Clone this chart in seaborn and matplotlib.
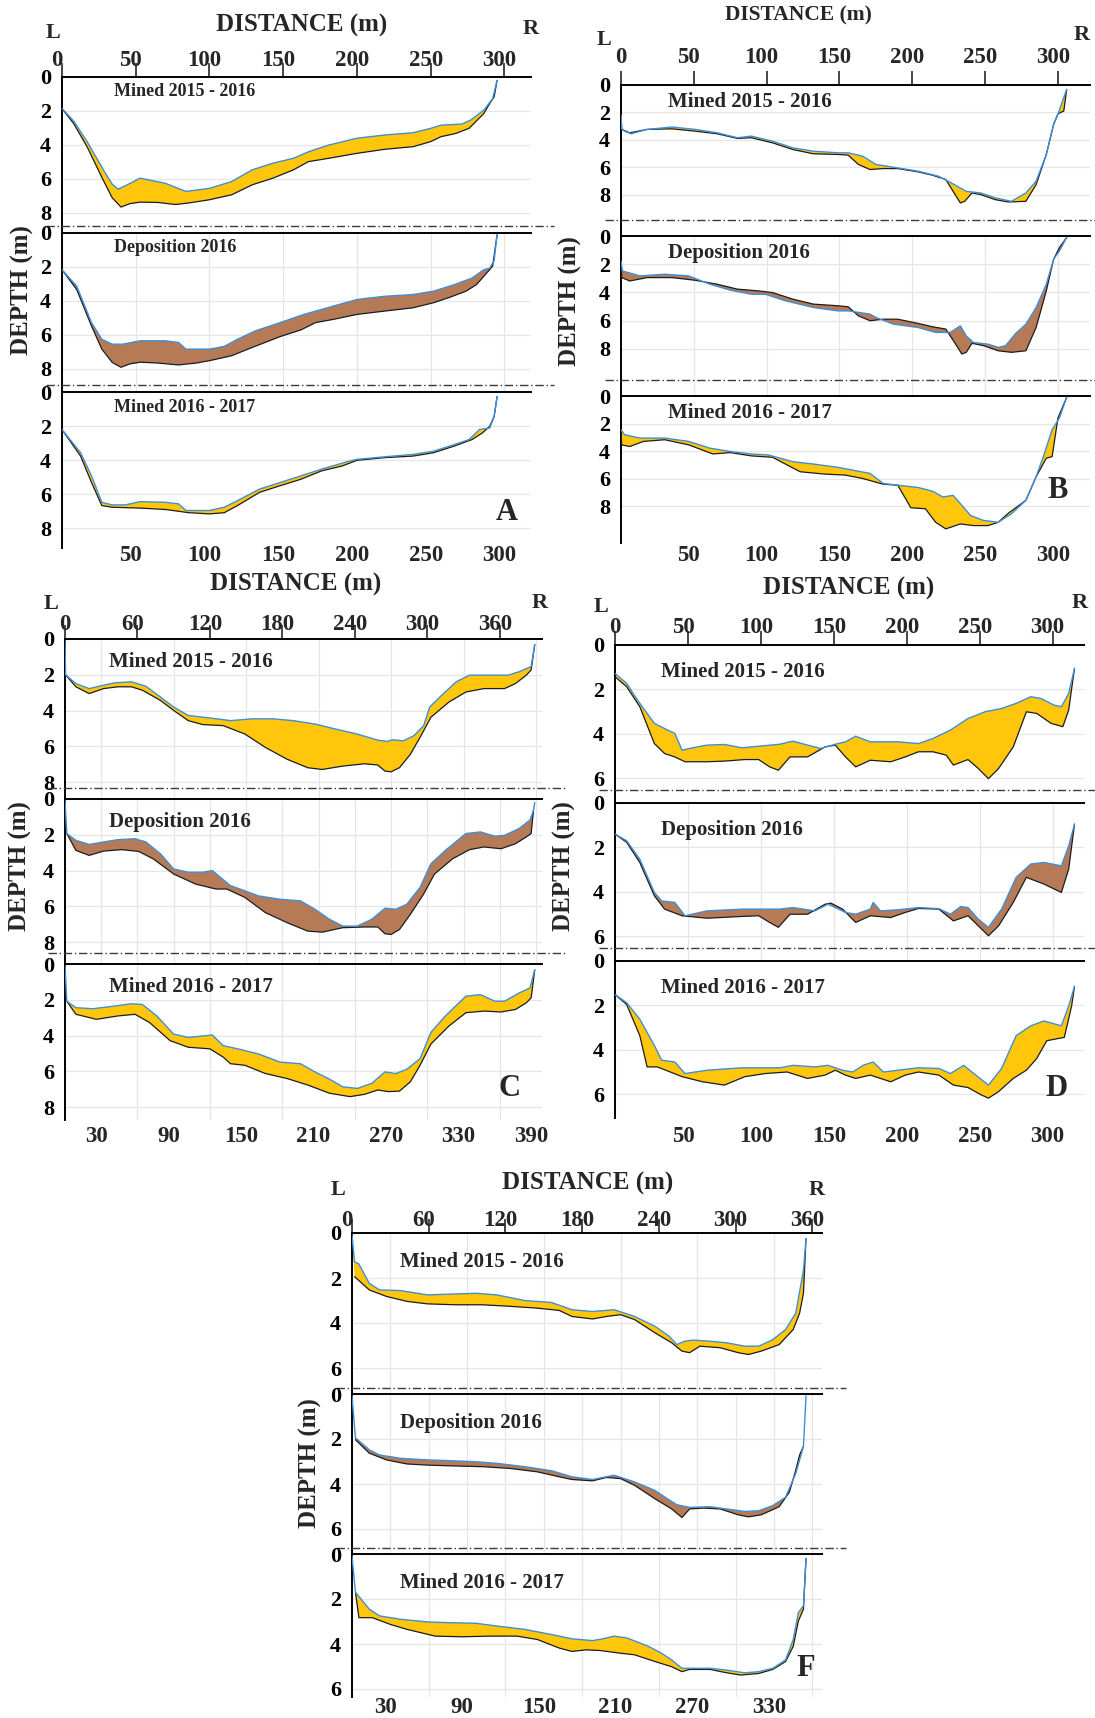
import matplotlib
matplotlib.use("Agg")
import matplotlib.pyplot as plt
import matplotlib.transforms as mtransforms
import seaborn as sns
import pandas as pd

# ---- profile data: (distance m, depth m); TOP = blue line, BOT = black line ----
A1_TOP = [(0, 1.85), (8, 2.6), (17, 3.8), (29, 5.6), (34, 6.3), (38, 6.6), (44, 6.35), (53, 5.95), (70, 6.25),
          (84, 6.73), (100, 6.55), (115, 6.15), (129, 5.46), (143, 5.07), (157, 4.78), (167, 4.4), (181, 4.0),
          (200, 3.6), (219, 3.41), (238, 3.28), (250, 3.02), (257, 2.83), (271, 2.77), (277, 2.54), (286, 1.95),
          (292, 1.27), (295, 0.2)]
A1_BOT = [(0, 1.85), (8, 2.75), (17, 4.1), (27, 5.9), (34, 7.1), (40, 7.65), (46, 7.45), (53, 7.36), (65, 7.38),
          (77, 7.5), (86, 7.41), (100, 7.22), (115, 6.93), (129, 6.34), (143, 5.95), (157, 5.46), (167, 4.98),
          (181, 4.78), (200, 4.49), (219, 4.25), (238, 4.1), (250, 3.8), (257, 3.51), (267, 3.32), (276, 3.02),
          (286, 2.15), (290, 1.56), (293, 1.17), (295, 0.2)]
A2_TOP = [(0, 2.16), (10, 3.13), (20, 5.27), (27, 6.25), (34, 6.54), (41, 6.54), (53, 6.34), (70, 6.34), (79, 6.44),
          (84, 6.83), (100, 6.83), (110, 6.67), (119, 6.25), (131, 5.76), (148, 5.27), (164, 4.79), (184, 4.3),
          (200, 3.91), (219, 3.72), (238, 3.62), (252, 3.42), (266, 3.04), (278, 2.65), (286, 2.16), (290, 2.07),
          (293, 1.63), (295, 0.1)]
A2_BOT = [(0, 2.16), (10, 3.33), (20, 5.47), (27, 6.83), (34, 7.61), (40, 7.9), (46, 7.7), (53, 7.6), (65, 7.65),
          (79, 7.76), (91, 7.65), (100, 7.51), (115, 7.22), (129, 6.73), (148, 6.09), (162, 5.7), (172, 5.27),
          (184, 5.08), (200, 4.79), (219, 4.59), (238, 4.4), (252, 4.1), (262, 3.81), (274, 3.42), (281, 3.04),
          (288, 2.35), (292, 1.95), (295, 0.1)]
A3_TOP = [(0, 2.21), (12.6, 3.57), (20, 4.93), (27, 6.49), (34, 6.64), (43, 6.64), (53, 6.45), (70, 6.49), (79, 6.58),
          (84, 6.97), (100, 6.97), (110, 6.78), (119, 6.39), (134, 5.71), (148, 5.32), (162, 4.93), (176, 4.54),
          (195, 4.06), (200, 3.96), (219, 3.81), (238, 3.67), (252, 3.48), (266, 3.09), (276, 2.8), (283, 2.21),
          (290, 2.12), (293, 1.44), (295, 0.27)]
A3_BOT = [(0, 2.21), (12.6, 3.77), (20, 5.32), (27, 6.68), (34, 6.78), (53, 6.83), (70, 6.91), (86, 7.1), (100, 7.17),
          (110, 7.1), (119, 6.68), (134, 5.9), (148, 5.51), (162, 5.13), (176, 4.64), (190, 4.35), (200, 4.02),
          (219, 3.86), (238, 3.77), (252, 3.57), (266, 3.18), (278, 2.8), (285, 2.41), (290, 2.02), (293, 1.44),
          (295, 0.27)]

B1_TOP = [(0, 2.2), (0.5, 3.2), (2.4, 3.37), (7, 3.56), (18, 3.24), (35, 3.07), (51, 3.24), (66, 3.49), (80, 3.85),
          (89.5, 3.73), (104, 4.1), (118, 4.59), (132, 4.83), (149, 4.95), (156, 4.95), (166, 5.2), (175, 5.8),
          (190, 6.05), (204, 6.29), (218, 6.66), (228, 7.22), (237, 7.76), (247, 7.88), (257, 8.24), (268, 8.49),
          (278, 7.88), (285, 7.02), (292, 5.07), (297, 2.88), (300, 2.15), (303, 1.2), (306, 0.32)]
B1_BOT = [(0, 2.2), (0.5, 3.24), (6, 3.49), (18, 3.24), (35, 3.2), (51, 3.37), (66, 3.56), (80, 3.9), (89.5, 3.85),
          (104, 4.22), (118, 4.71), (132, 5.02), (149, 5.07), (156, 5.12), (163, 5.8), (171, 6.17), (180, 6.1),
          (190, 6.1), (204, 6.34), (214, 6.59), (223, 6.9), (228, 7.76), (233, 8.61), (236, 8.49), (241, 7.88),
          (247, 8.0), (257, 8.37), (266, 8.54), (278, 8.49), (285, 7.27), (292, 5.07), (297, 2.88), (300, 2.1),
          (304, 1.9), (306, 0.32)]
B2_TOP = [(0, 1.77), (1, 2.48), (13, 2.83), (30, 2.71), (46.5, 2.83), (61, 3.42), (75, 3.84), (89.5, 4.13),
          (99, 4.13), (113, 4.6), (132, 5.07), (149, 5.31), (156, 5.31), (171, 5.54), (175, 5.78), (187, 6.25),
          (204, 6.49), (216, 6.84), (226, 6.84), (233, 6.37), (237, 7.08), (242, 7.55), (252, 7.67), (259, 7.9),
          (264, 7.78), (271, 6.91), (278, 6.25), (285, 5.07), (292, 3.42), (297, 1.65), (301, 1.06), (306, 0.1)]
B2_BOT = [(0, 1.77), (0.5, 2.95), (6, 3.19), (18, 2.95), (35, 2.95), (51, 3.14), (66, 3.42), (80, 3.77), (94, 3.89),
          (104, 4.01), (118, 4.48), (132, 4.83), (149, 4.95), (156, 5.02), (163, 5.66), (171, 6.01), (180, 5.9),
          (190, 5.9), (204, 6.2), (214, 6.44), (223, 6.6), (229, 7.55), (234, 8.37), (237, 8.25), (241, 7.61),
          (249, 7.78), (259, 8.14), (268, 8.25), (278, 8.14), (285, 6.49), (292, 3.89), (297, 1.65), (301, 0.83),
          (306, 0.1)]
B3_TOP = [(0, 2.44), (2.4, 2.8), (13, 3.05), (30, 3.05), (46.5, 3.29), (61, 3.78), (75, 4.02), (89.5, 4.2),
          (101, 4.27), (118, 4.76), (132, 4.93), (149, 5.17), (159, 5.37), (171, 5.61), (180, 6.34), (190, 6.46),
          (204, 6.63), (214, 6.9), (221, 7.32), (228, 7.2), (233, 7.8), (240, 8.66), (249, 9.02), (259, 9.15),
          (268, 8.54), (278, 7.56), (285, 5.85), (290, 4.39), (296, 2.44), (301, 1.59), (306, 0.1)]
B3_BOT = [(0, 2.44), (0.5, 3.54), (6, 3.66), (15.5, 3.29), (30, 3.17), (46.5, 3.54), (63, 4.2), (75, 4.1),
          (89.5, 4.34), (104, 4.44), (123, 5.49), (140, 5.66), (154, 5.73), (166, 5.98), (180, 6.39), (190, 6.46),
          (199, 8.1), (209, 8.17), (216, 9.15), (223, 9.63), (233, 9.27), (242, 9.39), (252, 9.39), (259, 9.15),
          (266, 8.49), (278, 7.56), (285, 5.85), (292, 4.51), (296, 4.39), (300, 1.59), (306, 0.1)]

C1_TOP = [(0, 0.1), (0.5, 2.0), (9, 2.49), (20, 2.77), (32, 2.58), (41, 2.45), (55, 2.39), (67, 2.64), (79, 3.24),
          (90, 3.8), (102, 4.27), (120, 4.41), (137, 4.56), (155, 4.46), (172, 4.46), (189, 4.56), (207, 4.75),
          (224, 5.03), (242, 5.31), (259, 5.65), (267, 5.72), (271, 5.63), (280, 5.69), (289, 5.4), (297, 4.84),
          (302, 3.8), (312, 3.14), (324, 2.39), (335, 2.02), (353, 2.02), (367, 2.02), (376, 1.83), (386, 1.54),
          (389, 0.32)]
C1_BOT = [(0.5, 2.0), (9, 2.67), (20, 3.05), (32, 2.77), (44, 2.67), (55, 2.67), (64, 2.86), (79, 3.43), (90, 3.99),
          (102, 4.56), (114, 4.78), (131, 4.84), (149, 5.31), (166, 6.06), (184, 6.72), (201, 7.19), (213, 7.29),
          (230, 7.1), (248, 6.97), (259, 7.04), (265, 7.38), (270, 7.42), (277, 7.19), (286, 6.44), (294, 5.5),
          (303, 4.37), (318, 3.52), (332, 2.96), (347, 2.77), (364, 2.77), (373, 2.49), (382, 2.02), (386, 1.73),
          (389, 0.32)]
C2_TOP = [(0, 0.1), (1.5, 1.93), (9, 2.31), (20, 2.54), (32, 2.4), (44, 2.27), (58, 2.22), (67, 2.4), (79, 3.06),
          (90, 3.91), (102, 4.09), (114, 4.09), (122, 4.0), (128, 4.34), (137, 4.84), (149, 5.13), (160, 5.41),
          (178, 5.6), (195, 5.69), (207, 6.16), (219, 6.72), (230, 7.1), (242, 7.1), (254, 6.72), (265, 6.1),
          (274, 6.16), (283, 5.88), (294, 4.94), (303, 3.62), (315, 2.87), (332, 1.93), (344, 1.84), (356, 2.08),
          (364, 2.03), (376, 1.65), (385, 1.18), (388, 0.62), (389, 0.2)]
C2_BOT = [(1.5, 1.93), (9, 2.87), (20, 3.15), (32, 2.91), (47, 2.83), (61, 2.93), (73, 3.34), (90, 4.19),
          (108, 4.75), (125, 5.03), (134, 5.03), (149, 5.5), (166, 6.35), (184, 6.91), (201, 7.38), (213, 7.44),
          (230, 7.19), (248, 7.15), (259, 7.15), (265, 7.53), (270, 7.57), (277, 7.29), (286, 6.44), (297, 5.31),
          (306, 4.19), (321, 3.34), (335, 2.83), (347, 2.68), (361, 2.78), (373, 2.5), (382, 2.12), (386, 1.93),
          (388, 0.62)]
C3_TOP = [(0, 0.1), (1.5, 2.08), (9, 2.44), (23, 2.5), (41, 2.35), (55, 2.22), (64, 2.26), (76, 2.9), (90, 3.92),
          (102, 4.1), (122, 3.97), (131, 4.56), (143, 4.74), (160, 5.02), (178, 5.48), (195, 5.57), (207, 6.03),
          (219, 6.43), (230, 6.86), (242, 6.95), (254, 6.67), (265, 6.03), (274, 6.12), (283, 5.88), (294, 5.29),
          (303, 3.82), (315, 2.9), (332, 1.8), (344, 1.71), (356, 2.08), (364, 2.08), (376, 1.62), (385, 1.34),
          (389, 0.33)]
C3_BOT = [(1.5, 2.08), (9, 2.81), (26, 3.09), (44, 2.9), (58, 2.81), (70, 3.27), (87, 4.28), (102, 4.65),
          (120, 4.74), (131, 5.2), (137, 5.57), (149, 5.66), (166, 6.12), (184, 6.4), (201, 6.76), (219, 7.22),
          (236, 7.41), (248, 7.28), (259, 7.04), (268, 7.13), (277, 7.1), (286, 6.58), (294, 5.66), (303, 4.47),
          (318, 3.46), (332, 2.72), (347, 2.63), (361, 2.68), (373, 2.54), (382, 2.17), (386, 1.89), (389, 0.33)]

D1_TOP = [(0, 1.28), (8, 1.73), (17, 2.63), (27, 3.53), (36, 3.83), (41, 3.98), (46, 4.74), (51, 4.66), (63, 4.51),
          (75, 4.48), (87, 4.63), (98.5, 4.56), (113, 4.47), (122, 4.33), (132, 4.51), (141, 4.66), (151, 4.47),
          (158, 4.36), (165, 4.11), (175, 4.36), (184, 4.36), (194, 4.36), (208, 4.44), (218, 4.21), (230, 3.83),
          (242, 3.31), (254, 3.0), (265, 2.86), (275, 2.63), (285, 2.33), (292, 2.41), (301, 2.71), (306, 2.78),
          (311, 2.18), (315, 1.05)]
D1_BOT = [(0, 1.43), (8, 1.88), (17, 2.78), (27, 4.44), (34, 4.89), (41, 5.04), (48, 5.26), (63, 5.26), (75, 5.23),
          (89, 5.16), (98.5, 5.16), (106, 5.49), (112, 5.64), (120, 5.04), (132, 5.04), (144, 4.59), (151, 4.51),
          (158, 5.04), (165, 5.49), (175, 5.19), (189, 5.26), (199, 5.04), (208, 4.81), (218, 4.81), (227, 4.96),
          (232, 5.41), (242, 5.16), (249, 5.56), (256, 6.02), (263, 5.56), (273, 4.59), (282, 3.01), (289, 3.08),
          (299, 3.53), (307, 3.68), (311, 2.93), (315, 1.05)]
D2_TOP = [(0, 1.4), (8, 1.7), (17, 2.53), (27, 4.03), (32, 4.41), (41, 4.48), (48, 5.08), (63, 4.86), (87, 4.78),
          (113, 4.78), (122, 4.71), (137, 4.86), (146, 4.56), (151, 4.71), (158, 4.93), (165, 5.01), (175, 4.78),
          (177, 4.48), (182, 4.86), (194, 4.81), (208, 4.71), (222, 4.76), (230, 5.01), (237, 4.66), (242, 4.71),
          (249, 5.23), (256, 5.6), (265, 4.78), (275, 3.35), (285, 2.75), (294, 2.68), (306, 2.83), (311, 1.93),
          (315, 0.95)]
D2_BOT = [(0, 1.4), (8, 1.77), (17, 2.68), (27, 4.18), (34, 4.78), (46, 5.08), (63, 5.19), (87, 5.11),
          (98.5, 5.08), (106, 5.38), (112, 5.6), (120, 5.01), (132, 5.01), (144, 4.56), (148, 4.51), (156, 4.78),
          (165, 5.38), (175, 5.08), (189, 5.16), (199, 4.93), (208, 4.75), (222, 4.78), (232, 5.31), (242, 5.08),
          (249, 5.53), (256, 5.98), (263, 5.53), (273, 4.48), (282, 3.35), (294, 3.65), (306, 4.03), (311, 2.98),
          (315, 0.95)]
D3_TOP = [(0, 1.51), (8, 1.88), (17, 2.62), (27, 3.81), (32, 4.47), (41, 4.55), (48, 5.07), (63, 4.92), (87, 4.81),
          (113, 4.81), (122, 4.7), (137, 4.77), (146, 4.7), (156, 4.92), (163, 5.0), (170, 4.7), (177, 4.55),
          (184, 5.0), (194, 4.92), (208, 4.81), (222, 4.84), (230, 5.07), (239, 4.7), (246, 5.07), (256, 5.59),
          (265, 4.84), (275, 3.36), (285, 2.92), (294, 2.7), (306, 2.92), (311, 2.03), (315, 1.14)]
D3_BOT = [(0, 1.51), (8, 1.96), (17, 3.36), (22, 4.77), (29, 4.77), (46, 5.21), (60, 5.44), (75, 5.59), (89, 5.21),
          (103, 5.07), (118, 5.0), (132, 5.29), (144, 5.14), (151, 4.92), (158, 5.14), (165, 5.29), (175, 5.14),
          (189, 5.44), (199, 5.14), (208, 5.0), (222, 5.14), (232, 5.59), (242, 5.7), (251, 6.03), (256, 6.18),
          (263, 5.88), (273, 5.29), (282, 4.92), (289, 4.4), (296, 3.59), (308, 3.44), (313, 2.03), (315, 1.14)]

F1_TOP = [(0, 0.1), (2, 1.28), (5.4, 1.38), (13.5, 2.24), (21.5, 2.53), (38, 2.56), (59, 2.75), (75, 2.72),
          (97, 2.68), (113, 2.75), (135, 3.0), (156, 3.09), (172, 3.41), (188, 3.49), (205, 3.41), (221, 3.71),
          (237, 4.15), (248, 4.59), (254, 4.96), (260, 4.81), (267, 4.76), (280, 4.81), (293, 4.88), (307, 5.03),
          (318, 5.03), (329, 4.74), (339, 4.29), (347, 3.56), (353, 1.65), (355, 0.25)]
F1_BOT = [(2, 1.94), (13.5, 2.53), (27, 2.82), (43, 3.04), (59, 3.15), (81, 3.19), (102, 3.19), (124, 3.26),
          (145, 3.34), (162, 3.44), (172, 3.71), (188, 3.82), (199, 3.71), (210, 3.63), (221, 3.85), (237, 4.44),
          (250, 4.88), (258, 5.25), (264, 5.32), (272, 5.03), (288, 5.1), (302, 5.32), (310, 5.4), (320, 5.25),
          (334, 4.96), (345, 4.29), (350, 3.56), (353, 2.68), (355, 0.25)]
F2_TOP = [(0, 0.1), (2.7, 1.95), (13.5, 2.48), (21.5, 2.71), (38, 2.86), (59, 2.93), (75, 2.96), (97, 3.01),
          (113, 3.08), (135, 3.23), (156, 3.41), (172, 3.68), (188, 3.8), (205, 3.61), (221, 3.91), (237, 4.29),
          (248, 4.71), (254, 4.92), (264, 5.04), (280, 5.01), (293, 5.11), (307, 5.22), (318, 5.19), (329, 4.96),
          (339, 4.59), (347, 3.53), (353, 2.33), (355, 0.08)]
F2_BOT = [(2.7, 2.03), (13.5, 2.63), (27, 2.93), (43, 3.11), (59, 3.16), (81, 3.2), (102, 3.23), (124, 3.31),
          (145, 3.46), (162, 3.68), (172, 3.8), (188, 3.86), (199, 3.71), (210, 3.76), (221, 4.06), (237, 4.66),
          (250, 5.11), (258, 5.49), (264, 5.11), (275, 5.07), (288, 5.11), (302, 5.37), (310, 5.46), (320, 5.37),
          (334, 5.01), (342, 4.36), (347, 3.38), (350, 2.71), (353, 2.33)]
F3_TOP = [(0, 0.1), (2.7, 1.7), (13.5, 2.45), (21.5, 2.75), (38, 2.9), (59, 3.02), (75, 3.05), (97, 3.08),
          (113, 3.2), (135, 3.35), (156, 3.58), (172, 3.77), (188, 3.85), (196, 3.77), (205, 3.65), (215, 3.73),
          (232, 4.11), (242, 4.41), (250, 4.71), (258, 5.08), (264, 5.08), (280, 5.08), (293, 5.16), (307, 5.28),
          (318, 5.23), (329, 5.08), (339, 4.71), (345, 3.8), (349, 2.6), (353, 2.3), (355, 0.2)]
F3_BOT = [(2.7, 1.7), (5.4, 2.83), (16, 2.83), (30, 3.13), (43, 3.35), (65, 3.65), (86, 3.68), (108, 3.65),
          (129, 3.65), (145, 3.8), (162, 4.18), (172, 4.33), (183, 4.26), (194, 4.29), (210, 4.41), (221, 4.48),
          (237, 4.78), (250, 5.01), (258, 5.23), (264, 5.13), (280, 5.13), (293, 5.28), (304, 5.38), (318, 5.31),
          (329, 5.13), (339, 4.78), (345, 4.11), (349, 2.98), (353, 2.45), (355, 0.2)]

TICKS_50_TOP = [0, 50, 100, 150, 200, 250, 300]
TICKS_50_BOT = [50, 100, 150, 200, 250, 300]
TICKS_60_TOP = [0, 60, 120, 180, 240, 300, 360]
C_TICKS_BOT = [30, 90, 150, 210, 270, 330, 390]
F_TICKS_BOT = [30, 90, 150, 210, 270, 330]
DEPTH_8 = [0, 2, 4, 6, 8]
DEPTH_6 = [0, 2, 4, 6]
LABELS = ["Mined 2015 - 2016", "Deposition 2016", "Mined 2016 - 2017"]

YELLOW = "#FFC60B"
BROWN = "#B77A57"
BLUE = "#3F8FD8"
W, H = 1095, 1718

# layout in pixels: left, right, subplot tops, bottom, px per metre per subplot, dash gap
PANELS = [
    dict(letter="A", left=62, right=531, tops=[77, 233, 392], bottom=548, scales=[17.0, 17.0, 17.0], xmax=318,
         gap=7.5, top_pad=-5.7, bot_pad=-2.5, shift_zero=True,
         top_ticks=TICKS_50_TOP, bot_ticks=TICKS_50_BOT, yticks=DEPTH_8, label_px=15, label_fs=13, label_x=0.11,
         title_fs=18, curves=[(A1_TOP, A1_BOT, YELLOW), (A2_TOP, A2_BOT, BROWN), (A3_TOP, A3_BOT, YELLOW)],
         title=(302, 25), L=(53, 33), R=(531, 29), depth=(22, 290), letter_xy=(507, 512)),
    dict(letter="B", left=621, right=1090, tops=[85, 236, 396], bottom=543, scales=[13.7, 14.1, 13.8], xmax=322,
         gap=16, top_pad=2.5, bot_pad=1.5, shift_zero=False,
         top_ticks=TICKS_50_TOP, bot_ticks=TICKS_50_BOT, yticks=DEPTH_8, label_px=17, label_fs=15, label_x=0.1,
         title_fs=15.5, curves=[(B1_TOP, B1_BOT, YELLOW), (B2_TOP, B2_BOT, BROWN), (B3_TOP, B3_BOT, YELLOW)],
         title=(798, 15), L=(604, 40), R=(1082, 35), depth=(570, 301), letter_xy=(1058, 491)),
    dict(letter="C", left=65, right=542, tops=[639, 799, 964], bottom=1120, scales=[17.9, 17.9, 17.9], xmax=395,
         gap=11, top_pad=-6.8, bot_pad=4, shift_zero=False,
         top_ticks=TICKS_60_TOP, bot_ticks=C_TICKS_BOT, yticks=DEPTH_8, label_px=23, label_fs=15, label_x=0.092,
         title_fs=18, curves=[(C1_TOP, C1_BOT, YELLOW), (C2_TOP, C2_BOT, BROWN), (C3_TOP, C3_BOT, YELLOW)],
         title=(296, 584), L=(51, 604), R=(540, 603), depth=(20, 866), letter_xy=(510, 1088)),
    dict(letter="D", left=615, right=1084, tops=[645, 803, 961], bottom=1118, scales=[22.2, 22.2, 22.2], xmax=321.5,
         gap=13, top_pad=-5, bot_pad=5.7, shift_zero=False,
         top_ticks=TICKS_50_TOP, bot_ticks=TICKS_50_BOT, yticks=DEPTH_6, label_px=27, label_fs=15, label_x=0.098,
         title_fs=18, curves=[(D1_TOP, D1_BOT, YELLOW), (D2_TOP, D2_BOT, BROWN), (D3_TOP, D3_BOT, YELLOW)],
         title=(849, 588), L=(601, 607), R=(1080, 603), depth=(564, 866), letter_xy=(1056, 1088)),
    dict(letter="F", left=352, right=822, tops=[1233, 1394, 1554], bottom=1697, scales=[22.5, 22.5, 22.5],
         xmax=367.5, gap=6, top_pad=-8.5, bot_pad=0, shift_zero=True,
         top_ticks=TICKS_60_TOP, bot_ticks=F_TICKS_BOT, yticks=DEPTH_6, label_px=29, label_fs=15, label_x=0.102,
         title_fs=18, curves=[(F1_TOP, F1_BOT, YELLOW), (F2_TOP, F2_BOT, BROWN), (F3_TOP, F3_BOT, YELLOW)],
         title=(588, 1183), L=(338, 1190), R=(817, 1190), depth=(310, 1463), letter_xy=(806, 1669)),
]

sns.set_theme(style="white")
plt.rcParams["font.family"] = ["Liberation Serif", "DejaVu Serif"]
plt.rcParams["font.weight"] = "bold"

fig = plt.figure(figsize=(W / 100, H / 100), dpi=100)
# the published tick labels sit a few pixels left of their tick marks
label_shift = mtransforms.ScaledTranslation(-5 / 100, 0, fig.dpi_scale_trans)


def ftext(xy, s, **kw):
    fig.text(xy[0] / W, 1 - xy[1] / H, s, ha="center", va="center", fontweight="bold", **kw)


def draw_profile(ax, top, bot, colour):
    t = pd.DataFrame(top, columns=["distance", "depth"])
    b = pd.DataFrame(bot, columns=["distance", "depth"])
    ax.fill(list(t["distance"]) + list(b["distance"][::-1]), list(t["depth"]) + list(b["depth"][::-1]),
            color=colour, lw=0, zorder=2)
    sns.lineplot(data=b, x="distance", y="depth", ax=ax, color="#1c1c1c", lw=0.9, sort=False,
                 estimator=None, zorder=3)
    sns.lineplot(data=t, x="distance", y="depth", ax=ax, color=BLUE, lw=1.0, sort=False,
                 estimator=None, zorder=4)


for p in PANELS:
    grid_x = sorted(set(p["top_ticks"]) | set(p["bot_ticks"]) - {0})
    bottoms = p["tops"][1:] + [p["bottom"]]
    for i, (top_px, bot_px) in enumerate(zip(p["tops"], bottoms)):
        ax = fig.add_axes([p["left"] / W, 1 - bot_px / H, (p["right"] - p["left"]) / W, (bot_px - top_px) / H])
        scale = p["scales"][i]
        ymax = (bot_px - top_px) / scale
        top, bot, colour = p["curves"][i]
        draw_profile(ax, top, bot, colour)
        ax.set_xlim(0, p["xmax"])
        ax.set_ylim(ymax, 0)
        ax.set_xlabel("")
        ax.set_ylabel("")
        ax.set_xticks(grid_x, minor=True)
        ax.grid(which="minor", axis="x", color="#e6e6e6", lw=0.9, zorder=0)
        ax.set_yticks(p["yticks"])
        ax.set_yticklabels([str(v) for v in p["yticks"]], fontsize=16, fontweight="bold")
        ax.grid(which="major", axis="y", color="#e6e6e6", lw=0.9, zorder=0)
        ax.tick_params(axis="y", direction="out", length=5, width=1.2, pad=3, colors="black")
        ax.tick_params(axis="x", which="minor", length=0)
        for s in ["right", "bottom"]:
            ax.spines[s].set_visible(False)
        for s in ["top", "left"]:
            ax.spines[s].set_color("black")
            ax.spines[s].set_linewidth(1.4)
        if i == 0:
            ax.xaxis.tick_top()
            ax.set_xticks(p["top_ticks"])
            ax.set_xticklabels([str(v) for v in p["top_ticks"]], fontsize=16.5, fontweight="bold")
            ax.tick_params(axis="x", which="major", direction="out", length=10, width=1.2, pad=p["top_pad"])
        elif i == 2:
            ax.set_xticks(p["bot_ticks"])
            ax.set_xticklabels([str(v) for v in p["bot_ticks"]], fontsize=16.5, fontweight="bold")
            ax.tick_params(axis="x", which="major", direction="in", length=7, width=1.2, pad=p["bot_pad"])
        else:
            ax.set_xticks([])
        for lab in ax.get_xticklabels():
            if lab.get_text() == "0" and not p["shift_zero"]:
                continue
            lab.set_transform(lab.get_transform() + label_shift)
        if i < 2:
            dash = ymax - p["gap"] / scale
            ax.plot([-0.035, 1.05], [dash, dash], transform=ax.get_yaxis_transform(), color="#3a3a3a",
                    lw=1.0, ls=(0, (6, 2, 1, 2)), clip_on=False, zorder=5)
        ax.text(p["label_x"], 1 - p["label_px"] / (bot_px - top_px), LABELS[i], transform=ax.transAxes,
                fontsize=p["label_fs"], fontweight="bold", ha="left", va="center", zorder=6)
        ax.set_facecolor("white")
    ftext(p["title"], "DISTANCE (m)", fontsize=p["title_fs"])
    ftext(p["L"], "L", fontsize=16)
    ftext(p["R"], "R", fontsize=16)
    ftext(p["depth"], "DEPTH (m)", fontsize=18, rotation=90)
    ftext(p["letter_xy"], p["letter"], fontsize=22)

fig.savefig("out.png", dpi=100, facecolor="white")
